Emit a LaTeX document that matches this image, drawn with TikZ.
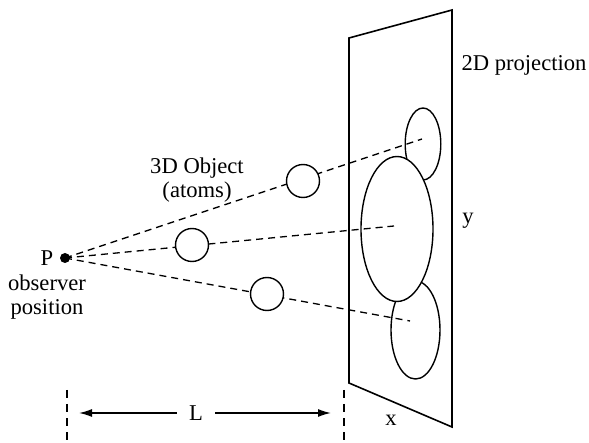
\documentclass[tikz,border=0pt]{standalone}
\usepackage{fontspec}
\setmainfont{Liberation Serif}
\newfontfamily\labelfont{Liberation Serif}
\usetikzlibrary{positioning,arrows.meta,shapes.geometric}

\begin{document}
\begin{tikzpicture}[
  x=1pt, y=-1pt,
  every node/.style={font=\labelfont\fontsize{22.6}{24}\selectfont},
  atom/.style={draw, circle, fill=white, minimum size=33pt, inner sep=0pt, line width=1.4pt},
  blob/.style={draw, ellipse, fill=white, inner sep=0pt, line width=1.4pt},
  plane/.style={line width=1.6pt, line join=miter},
  ray/.style={dash pattern=on 7pt off 5pt, line width=1.3pt},
  guide/.style={dash pattern=on 8pt off 6pt, line width=1.1pt},
  dim/.style={-{Latex[length=13pt,width=8pt]}, line width=1.5pt}
]
\useasboundingbox (0,0) rectangle (589,443);

% projection plane
\coordinate (tl) at (349,38);
\coordinate (tr) at (452,10);
\coordinate (br) at (452,427);
\coordinate (bl) at (349,383);
\draw[plane] (tl) -- (tr) -- (br) -- (bl) -- cycle;

% projected atoms
\node[blob, minimum width=35.6pt, minimum height=72pt] (ptop) at (423,144) {};
\node[blob, minimum width=49pt, minimum height=98pt] (pbot) at (415.5,330) {};
\node[blob, minimum width=72pt, minimum height=145pt] (pmid) at (397,229) {};

% observer
\node[circle, fill, inner sep=0pt, minimum size=10pt] (P) at (65,258) {};
\node (plabel) at (47,258) {P};
\node[align=center] (obs) at (47,297) {observer\\position};

% rays
\coordinate (e1) at (422,139);
\coordinate (e2) at (394,226);
\coordinate (e3) at (410,321);
\draw[ray] (P.center) -- (e1);
\draw[ray] (P.center) -- (e2);
\draw[ray] (P.center) -- (e3);

% 3D atoms
\node[atom] (a1) at (303,181) {};
\node[atom] (a2) at (192,245) {};
\node[atom] (a3) at (267,294) {};

% labels
\node[align=center] (obj) at (197,180) {3D Object\\(atoms)};
\node (proj) at (524,65) {2D projection};
\node (ylab) at (468,221) {y};
\node (xlab) at (391,420) {x};

% distance L
\coordinate (g1a) at (67,390);
\coordinate (g1b) at (67,443);
\coordinate (g2a) at (344,390);
\coordinate (g2b) at (344,443);
\draw[guide] (g1a) -- (g1b);
\draw[guide] (g2a) -- (g2b);
\node[inner xsep=12pt] (L) at (196,413) {L};
\coordinate (lt) at (79,413);
\coordinate (rt) at (331,413);
\draw[dim] (L) -- (lt);
\draw[dim] (L) -- (rt);
\end{tikzpicture}
\end{document}
